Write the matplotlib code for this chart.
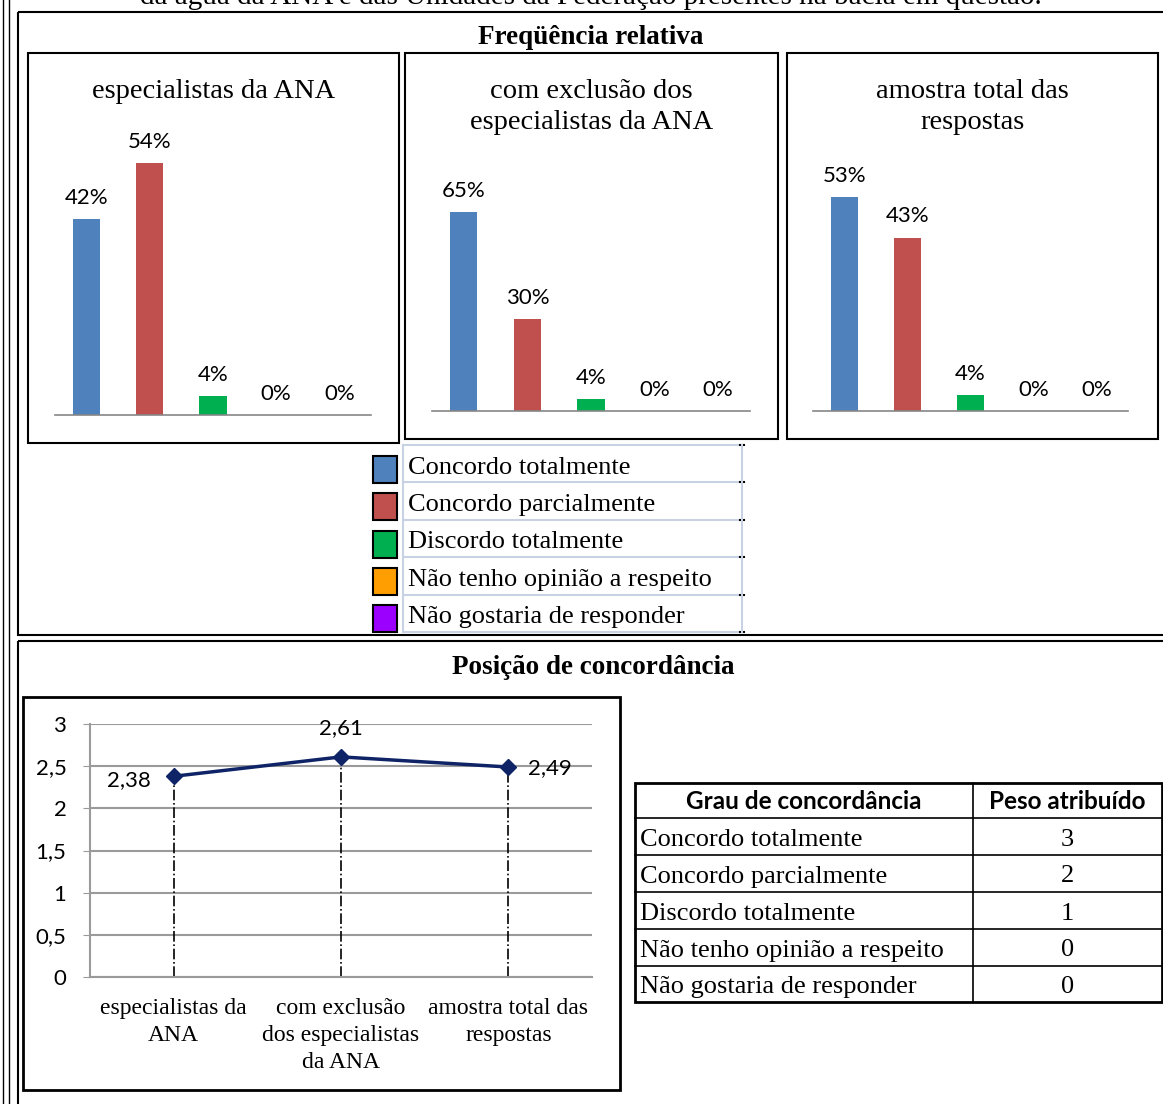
import matplotlib.pyplot as plt
from matplotlib.patches import Rectangle

W, H = 1163, 1104

categories = ["Concordo totalmente", "Concordo parcialmente", "Discordo totalmente",
              "Não tenho opinião a respeito", "Não gostaria de responder"]
colors = ["#4F81BD", "#C0504D", "#00B050", "#FF9E00", "#9B00FF"]
panel_titles = ["especialistas da ANA", "com exclusão dos\nespecialistas da ANA",
                "amostra total das\nrespostas"]
freq_ana = [42, 54, 4, 0, 0]
freq_sem_ana = [65, 30, 4, 0, 0]
freq_total = [53, 43, 4, 0, 0]

groups = ["especialistas da\nANA", "com exclusão\ndos especialistas\nda ANA",
          "amostra total das\nrespostas"]
media = [2.38, 2.61, 2.49]
pesos = [3, 2, 1, 0, 0]

SERIF = "Liberation Serif"
SANS = "Lato"


def fbox(x0, y0, x1, y1):
    # pixel box (top-left origin) -> figure coords
    return [x0 / W, 1 - y1 / H, (x1 - x0) / W, (y1 - y0) / H]


fig = plt.figure(figsize=(W / 100, H / 100), dpi=100)
bg = fig.add_axes([0, 0, 1, 1])
bg.set_xlim(0, W)
bg.set_ylim(H, 0)
bg.axis('off')


def frame(x0, y0, x1, y1, lw=1.5, color='black'):
    bg.add_patch(Rectangle((x0, y0), x1 - x0, y1 - y0, fill=False, lw=lw, ec=color))


# outer frames
bg.plot([3, 3], [0, H], color='black', lw=1)
bg.plot([9, 9], [0, H], color='black', lw=1)
frame(18, 12, W + 5, 635, lw=1.5)
frame(18, 641, W + 5, H + 5, lw=1.5)
# caption line of the page, cut off at the top edge like in the source
bg.text(591, 4, "da água da ANA e das Unidades da Federação presentes na bacia em questão.",
        family=SERIF, fontsize=21, ha='center', va='baseline')
bg.text(591, 37, "Freqüência relativa", family=SERIF, fontsize=19.5, weight='bold',
        ha='center', va='center')
bg.text(593, 667, "Posição de concordância", family=SERIF, fontsize=19.5, weight='bold',
        ha='center', va='center')

# bar panels
panels = [
    (freq_ana, (55, 135, 371, 415), 60, (28, 53, 399, 443)),
    (freq_sem_ana, (432, 197, 750, 411), 70, (405, 53, 778, 439)),
    (freq_total, (813, 169, 1128, 411), 60, (787, 53, 1158, 439)),
]
for (vals, abox, ytop, fr), title in zip(panels, panel_titles):
    frame(*fr)
    bg.text((fr[0] + fr[2]) / 2, 79, title, family=SERIF, fontsize=20.5,
            ha='center', va='top', linespacing=1.32)
    ax = fig.add_axes(fbox(*abox))
    x = range(len(vals))
    bars = ax.bar(x, vals, width=0.43, color=colors)
    for b, v in zip(bars, vals):
        ax.annotate(f"{v}%", (b.get_x() + b.get_width() / 2, v), xytext=(0, 8),
                    textcoords='offset points', ha='center', va='bottom',
                    family=SANS, fontsize=16, annotation_clip=False)
    ax.set_xlim(-0.5, len(vals) - 0.5)
    ax.set_ylim(0, ytop)
    ax.patch.set_visible(False)
    for s in ['top', 'left', 'right']:
        ax.spines[s].set_visible(False)
    ax.spines['bottom'].set_color('#868686')
    ax.spines['bottom'].set_linewidth(1.2)
    ax.set_xticks([])
    ax.set_yticks([])

# legend
row_h = 37.4
ly0 = 445
for i, (lab, c) in enumerate(zip(categories, colors)):
    yc = ly0 + row_h * (i + 0.5)
    bg.add_patch(Rectangle((373, yc - 8), 24, 27, fc=c, ec='black', lw=1.5))
    bg.text(408, yc + 4, lab, family=SERIF, fontsize=19, ha='left', va='center')
for i in range(len(categories) + 1):
    yl = ly0 + row_h * i
    bg.plot([403, 742], [yl, yl], color='#c8d2e4', lw=1.5)
    bg.plot([740, 744], [yl, yl], color='black', lw=1.5)
bg.plot([403, 403], [ly0, ly0 + row_h * 5], color='#c8d2e4', lw=1.5)
bg.plot([742, 742], [ly0, ly0 + row_h * 5], color='#c8d2e4', lw=1.5)

# line chart
frame(23, 697, 620, 1090, lw=2)
ax = fig.add_axes(fbox(90, 724, 592, 977))
ax.patch.set_visible(False)
xs = list(range(len(media)))
ax.set_xlim(-0.5, len(media) - 0.5)
ax.set_ylim(0, 3)
yt = [0, 0.5, 1, 1.5, 2, 2.5, 3]
ax.set_yticks(yt)
ax.set_yticklabels([f"{v:g}".replace('.', ',') for v in yt], family=SANS, fontsize=16)
ax.yaxis.grid(True, color='#9a9a9a', lw=1.5)
ax.set_axisbelow(True)
ax.tick_params(axis='y', length=5, color='#9a9a9a', pad=12)
ax.set_xticks(xs)
ax.set_xticklabels(groups, family=SERIF, fontsize=17, linespacing=1.38)
ax.tick_params(axis='x', length=0, pad=15)
for s in ['top', 'right']:
    ax.spines[s].set_visible(False)
ax.spines['left'].set_color('#9a9a9a')
ax.spines['bottom'].set_color('#9a9a9a')
ax.spines['left'].set_linewidth(1.5)
ax.spines['bottom'].set_linewidth(1.5)
ax.vlines(xs, 0, media, colors='black', linestyles='-.', lw=1.2, zorder=2)
ax.plot(xs, media, color='#0F2466', lw=2.5, marker='D', markersize=8, zorder=3)
offsets = [(-32, -3), (0, 21), (30, -1)]
for xi, v, off in zip(xs, media, offsets):
    ax.annotate(f"{v:.2f}".replace('.', ','), (xi, v), xytext=off, textcoords='offset points',
                ha='center', va='center', family=SANS, fontsize=16)

# table
col_x = [635, 973, W - 1]
row_y = [783, 818, 855, 892, 929, 966, 1002]
bg.text((col_x[0] + col_x[1]) / 2, (row_y[0] + row_y[1]) / 2 + 1, "Grau de concordância",
        family=SANS, fontsize=17.5, weight='bold', ha='center', va='center')
bg.text((col_x[1] + col_x[2]) / 2, (row_y[0] + row_y[1]) / 2 + 1, "Peso atribuído",
        family=SANS, fontsize=17.5, weight='bold', ha='center', va='center')
for i, (lab, p) in enumerate(zip(categories, pesos)):
    yc = (row_y[i + 1] + row_y[i + 2]) / 2 + 3
    bg.text(640, yc, lab, family=SERIF, fontsize=19, ha='left', va='center')
    bg.text((col_x[1] + col_x[2]) / 2, yc, str(p), family=SERIF, fontsize=19,
            ha='center', va='center')
for yl in row_y[1:-1]:
    bg.plot([col_x[0], col_x[2]], [yl, yl], color='black', lw=1.2)
bg.plot([col_x[1], col_x[1]], [row_y[0], row_y[-1]], color='black', lw=1.2)
bg.add_patch(Rectangle((col_x[0], row_y[0]), col_x[2] - col_x[0], row_y[-1] - row_y[0],
                       fill=False, ec='black', lw=2))

fig.savefig("out.png", dpi=100)
